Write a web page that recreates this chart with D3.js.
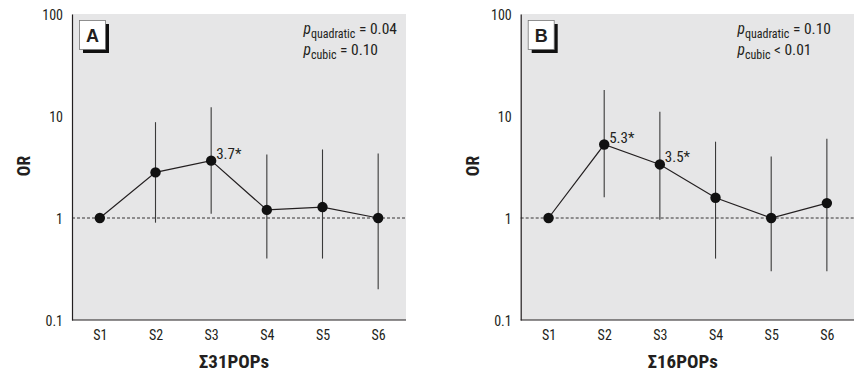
<!DOCTYPE html>
<html>
<head>
<meta charset="utf-8">
<script src="https://cdn.jsdelivr.net/npm/d3@7"></script>
<style>
  html, body { margin: 0; padding: 0; background: #fff; }
  svg { display: block; }
  text { font-family: "Liberation Sans Narrow", "Arial Narrow", "Roboto Condensed", sans-serif; fill: #231f20; }
</style>
</head>
<body>
<svg id="chart" width="854" height="374"></svg>
<script>
// ---- data ----
const categories = ["S1", "S2", "S3", "S4", "S5", "S6"];
const yTicks = [0.1, 1, 10, 100];
const yTickLabels = ["0.1", "1", "10", "100"];

const orA    = [1.0, 2.8, 3.65, 1.2, 1.28, 1.0];
const lowerA = [null, 0.9, 1.1, 0.4, 0.4, 0.2];
const upperA = [null, 8.7, 12.2, 4.2, 4.7, 4.3];
const labelsA = [null, null, "3.7*", null, null, null];

const orB    = [1.0, 5.25, 3.35, 1.58, 1.0, 1.4];
const lowerB = [null, 1.6, 0.96, 0.4, 0.3, 0.3];
const upperB = [null, 18, 11, 5.6, 4.0, 6.0];
const labelsB = [null, "5.3*", "3.5*", null, null, null];

const panelLetters = ["A", "B"];
const xTitles = ["\u03A331POPs", "\u03A316POPs"];
const pQuadratic = ["= 0.04", "= 0.10"];
const pCubic = ["= 0.10", "< 0.01"];

// ---- drawing ----
const svg = d3.select("#chart");
const plotTop = 14, plotBottom = 320, plotW = 334;

const y = d3.scaleLog().domain([0.1, 100]).range([plotBottom, plotTop]);

function drawPanel(left, or, lo, hi, labels, letter, xTitle, pq, pc, pRight) {
  const g = svg.append("g");
  const x = d3.scalePoint().domain(categories).range([left, left + plotW]).padding(0.5);

  // background
  g.append("rect").attr("x", left).attr("y", plotTop)
    .attr("width", plotW).attr("height", plotBottom - plotTop)
    .attr("fill", "#e6e6e7");

  // reference line at OR=1
  g.append("line")
    .attr("x1", left).attr("x2", left + plotW)
    .attr("y1", y(1)).attr("y2", y(1))
    .attr("stroke", "#231f20").attr("stroke-width", 0.9)
    .attr("stroke-dasharray", "3,2");

  // axes
  const yAxis = d3.axisLeft(y).tickValues(yTicks)
    .tickFormat((d, i) => yTickLabels[i]).tickSize(0).tickPadding(9);
  const ya = g.append("g").attr("transform", `translate(${left},0)`).call(yAxis);
  ya.attr("font-family", null).attr("font-size", null);
  ya.select(".domain").attr("stroke", "#231f20").attr("stroke-width", 1.2);
  ya.selectAll("text").attr("font-size", 14).attr("dy", "0.36em");

  const xAxis = d3.axisBottom(x).tickSize(0).tickPadding(10);
  const xa = g.append("g").attr("transform", `translate(0,${plotBottom})`).call(xAxis);
  xa.attr("font-family", null).attr("font-size", null);
  xa.select(".domain").attr("d", `M${left},0H${left + plotW}`)
    .attr("stroke", "#231f20").attr("stroke-width", 1.2);
  xa.selectAll("text").attr("font-size", 14);

  // error bars
  const idx = d3.range(categories.length).filter(i => lo[i] != null);
  g.selectAll(".err").data(idx).join("line")
    .attr("x1", i => x(categories[i])).attr("x2", i => x(categories[i]))
    .attr("y1", i => y(lo[i])).attr("y2", i => y(hi[i]))
    .attr("stroke", "#3a3a3a").attr("stroke-width", 1.1);

  // connecting line
  const line = d3.line().x((d, i) => x(categories[i])).y(d => y(d));
  g.append("path").attr("d", line(or))
    .attr("fill", "none").attr("stroke", "#231f20").attr("stroke-width", 1.2);

  // dots
  g.selectAll(".dot").data(or).join("circle")
    .attr("cx", (d, i) => x(categories[i])).attr("cy", d => y(d))
    .attr("r", 5.2).attr("fill", "#111");

  // value labels
  g.selectAll(".lbl").data(d3.range(categories.length).filter(i => labels[i]))
    .join("text")
    .attr("x", i => x(categories[i]) + 5)
    .attr("y", i => y(or[i]) - 2)
    .attr("font-size", 15)
    .text(i => labels[i]);

  // panel letter box
  const bx = left + 7.5, by = 20.5, bw = 26, bh = 29;
  g.append("rect").attr("x", bx + 3.5).attr("y", by + 3.5).attr("width", bw).attr("height", bh).attr("fill", "#111");
  g.append("rect").attr("x", bx).attr("y", by).attr("width", bw).attr("height", bh)
    .attr("fill", "#fff").attr("stroke", "#777").attr("stroke-width", 0.8);
  g.append("text").attr("x", bx + bw / 2).attr("y", by + bh / 2 + 6.5)
    .attr("text-anchor", "middle").attr("font-size", 18).attr("font-weight", "bold")
    .style("font-family", "'Liberation Sans', Arial, sans-serif")
    .text(letter);

  // p-value annotations
  const p1 = g.append("text").attr("x", pRight).attr("y", 34).attr("text-anchor", "end").attr("font-size", 15.5);
  p1.append("tspan").attr("font-style", "italic").text("p");
  p1.append("tspan").attr("font-size", 12).attr("dy", 4).text("quadratic");
  p1.append("tspan").attr("dy", -4).text(" " + pq);

  const p2 = g.append("text").attr("x", pRight).attr("y", 55).attr("font-size", 15.5);
  p2.append("tspan").attr("font-style", "italic").text("p");
  p2.append("tspan").attr("font-size", 12).attr("dy", 4).text("cubic");
  p2.append("tspan").attr("dy", -4).text(" " + pc);
  const w1 = p1.node().getComputedTextLength();
  p2.attr("x", pRight - w1);

  // axis titles
  g.append("text")
    .attr("transform", `translate(${left - 42},${(plotTop + plotBottom) / 2 - 1}) rotate(-90)`)
    .attr("text-anchor", "middle").attr("font-size", 17.5).attr("font-weight", "bold")
    .text("OR");
  g.append("text")
    .attr("x", left + plotW / 2 - 5).attr("y", 368)
    .attr("text-anchor", "middle").attr("font-size", 19).attr("font-weight", "bold")
    .text(xTitle);
}

drawPanel(72, orA, lowerA, upperA, labelsA, panelLetters[0], xTitles[0], pQuadratic[0], pCubic[0], 397);
drawPanel(520.7, orB, lowerB, upperB, labelsB, panelLetters[1], xTitles[1], pQuadratic[1], pCubic[1], 831);
</script>
</body>
</html>
